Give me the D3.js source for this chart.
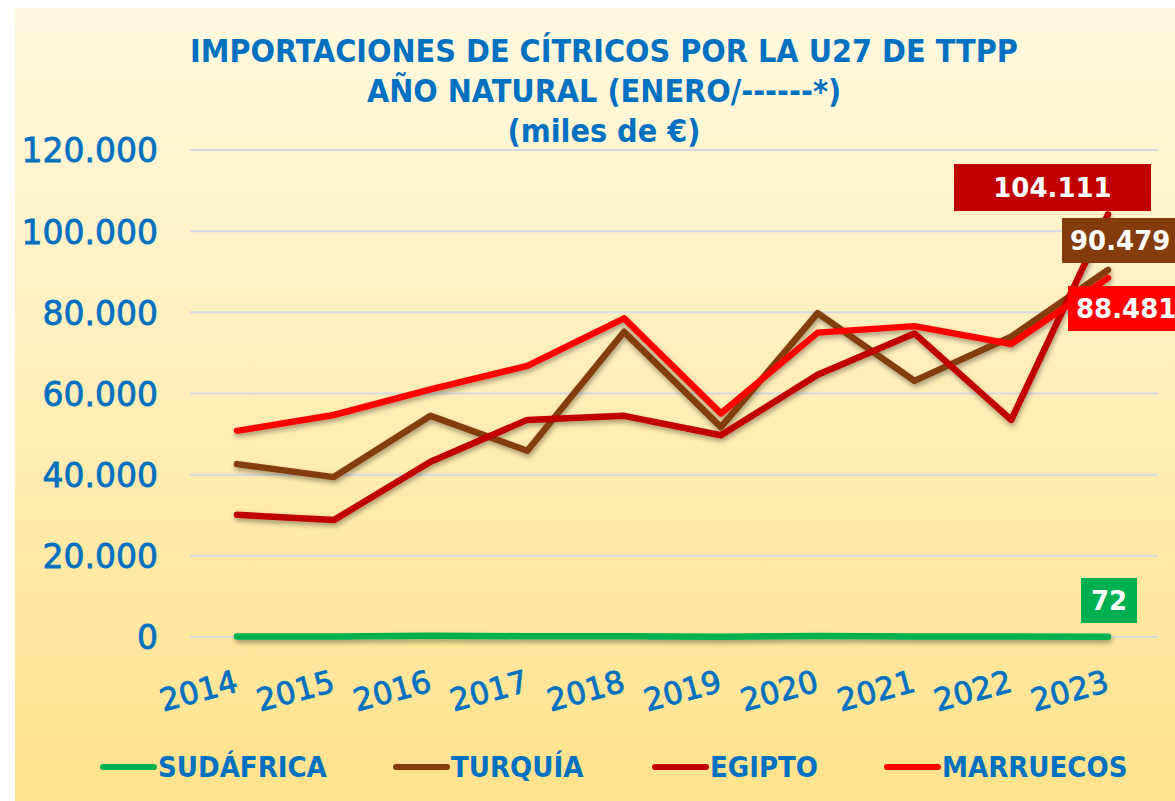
<!DOCTYPE html>
<html>
<head>
<meta charset="utf-8">
<script src="https://cdn.jsdelivr.net/npm/d3@7"></script>
<style>
  body { margin: 0; background: #fff; }
  svg { display: block; }
</style>
</head>
<body>
<div id="chart"></div>
<script>
// chart values
var years = ["2014", "2015", "2016", "2017", "2018", "2019", "2020", "2021", "2022", "2023"];
var sudafrica = [150, 120, 300, 200, 180, 90, 260, 110, 140, 72];
var turquia = [42600, 39400, 54500, 45900, 75200, 51700, 79800, 63100, 74000, 90479];
var egipto = [30100, 28800, 43200, 53500, 54500, 49700, 64600, 74800, 53500, 104111];
var marruecos = [50800, 54700, 61000, 66800, 78500, 55100, 75000, 76600, 72200, 88481];
var yTicks = [0, 20000, 40000, 60000, 80000, 100000, 120000];
var titleLines = ["IMPORTACIONES DE CÍTRICOS POR LA U27 DE TTPP", "AÑO NATURAL (ENERO/------*)", "(miles de €)"];

var series = [
    { name: "SUDÁFRICA", values: sudafrica, color: "#00B050" },
    { name: "TURQUÍA", values: turquia, color: "#843C0C" },
    { name: "EGIPTO", values: egipto, color: "#C00000" },
    { name: "MARRUECOS", values: marruecos, color: "#FF0000" }
];

var W = 1175, H = 801;
var blue = "#0070C0";
var narrow = "'DejaVu Sans Condensed', 'Liberation Sans Narrow', sans-serif";
var wide = "'DejaVu Sans', sans-serif";

var svg = d3.select("#chart").append("svg").attr("width", W).attr("height", H);
var defs = svg.append("defs");

//background gradient
var grad = defs.append("linearGradient").attr("id", "bg").attr("x1", 0).attr("y1", 0).attr("x2", 0).attr("y2", 1);
grad.append("stop").attr("offset", "0%").attr("stop-color", "#FFF9E0");
grad.append("stop").attr("offset", "100%").attr("stop-color", "#FFE28C");

//shadow for the lines
var f = defs.append("filter").attr("id", "shadow").attr("x", "-10%").attr("y", "-10%").attr("width", "120%").attr("height", "130%");
f.append("feDropShadow").attr("dx", 1).attr("dy", 3).attr("stdDeviation", 2.5)
    .attr("flood-color", "#000").attr("flood-opacity", 0.35);

svg.append("rect").attr("x", 15).attr("y", 8).attr("width", W - 15).attr("height", H - 8).attr("fill", "url(#bg)");

//title
svg.append("g").selectAll("text")
    .data(titleLines)
    .enter().append("text")
    .attr("x", 604)
    .attr("y", function (d, i) { return 62 + i * 40; })
    .attr("text-anchor", "middle")
    .style("font-family", narrow)
    .style("font-weight", "bold")
    .style("font-size", "32px")
    .attr("fill", blue)
    .text(function (d) { return d; });

var x = d3.scalePoint().domain(years).range([237, 1108]);
var y = d3.scaleLinear().domain([0, 120000]).range([637, 150]);

//gridlines
svg.append("g").selectAll("line")
    .data(yTicks)
    .enter().append("line")
    .attr("x1", 190).attr("x2", 1158)
    .attr("y1", function (d) { return y(d); })
    .attr("y2", function (d) { return y(d); })
    .attr("stroke", "#D6D9E3")
    .attr("stroke-width", 2);

//y axis
var yAxis = svg.append("g")
    .attr("transform", "translate(158,0)")
    .call(d3.axisLeft(y).tickValues(yTicks).tickSize(0).tickPadding(0)
        .tickFormat(function (d) { return d3.format(",")(d).replace(/,/g, "."); }));
yAxis.select(".domain").remove();
yAxis.selectAll("text")
    .attr("fill", blue)
    .attr("stroke", blue)
    .attr("stroke-width", 0.8)
    .attr("dy", "0.36em")
    .style("font-family", wide)
    .style("font-size", "33px");

//x axis
var xAxis = svg.append("g")
    .attr("transform", "translate(0,637)")
    .call(d3.axisBottom(x).tickSize(0).tickPadding(0));
xAxis.select(".domain").remove();
xAxis.selectAll("text")
    .attr("fill", blue)
    .attr("stroke", blue)
    .attr("stroke-width", 0.8)
    .attr("text-anchor", "end")
    .attr("transform", "translate(2,54) rotate(-15)")
    .attr("dy", 0)
    .attr("y", 0)
    .style("font-family", wide)
    .style("font-size", "31px");

//lines
var line = d3.line()
    .x(function (d, i) { return x(years[i]); })
    .y(function (d) { return y(d); });

svg.append("g").attr("filter", "url(#shadow)")
    .selectAll("path")
    .data(series)
    .enter().append("path")
    .attr("d", function (d) { return line(d.values); })
    .attr("fill", "none")
    .attr("stroke", function (d) { return d.color; })
    .attr("stroke-width", 6.5)
    .attr("stroke-linejoin", "round")
    .attr("stroke-linecap", "round");

//last value labels
var labels = [
    { s: 2, x0: 954, y0: 164, w: 197, h: 47 },
    { s: 1, x0: 1062, y0: 218, w: 130, h: 45 },
    { s: 3, x0: 1068, y0: 286, w: 130, h: 45 },
    { s: 0, x0: 1081, y0: 578, w: 56, h: 45 }
];
var lg = svg.append("g").selectAll("g")
    .data(labels)
    .enter().append("g");
lg.append("rect")
    .attr("x", function (d) { return d.x0; })
    .attr("y", function (d) { return d.y0; })
    .attr("width", function (d) { return d.w; })
    .attr("height", function (d) { return d.h; })
    .attr("fill", function (d) { return series[d.s].color; });
lg.append("text")
    .attr("x", function (d) { return d.s == 1 || d.s == 3 ? d.x0 + 8 : d.x0 + d.w / 2; })
    .attr("y", function (d) { return d.y0 + d.h / 2; })
    .attr("dy", "0.36em")
    .attr("text-anchor", function (d) { return d.s == 1 || d.s == 3 ? "start" : "middle"; })
    .attr("fill", "#fff")
    .style("font-family", wide)
    .style("font-weight", "bold")
    .style("font-size", "26px")
    .text(function (d) {
        var v = series[d.s].values[years.length - 1];
        return d3.format(",")(v).replace(/,/g, ".");
    });

//legend
var legendX = [100, 393, 652, 884];
var leg = svg.append("g").selectAll("g")
    .data(series)
    .enter().append("g")
    .attr("transform", function (d, i) { return "translate(" + legendX[i] + ",767)"; });
leg.append("line")
    .attr("x1", 3).attr("x2", 54)
    .attr("stroke", function (d) { return d.color; })
    .attr("stroke-width", 6)
    .attr("stroke-linecap", "round");
leg.append("text")
    .attr("x", 58)
    .attr("dy", "0.36em")
    .attr("fill", blue)
    .style("font-family", narrow)
    .style("font-weight", "bold")
    .style("font-size", "29px")
    .text(function (d) { return d.name; });
</script>
</body>
</html>
